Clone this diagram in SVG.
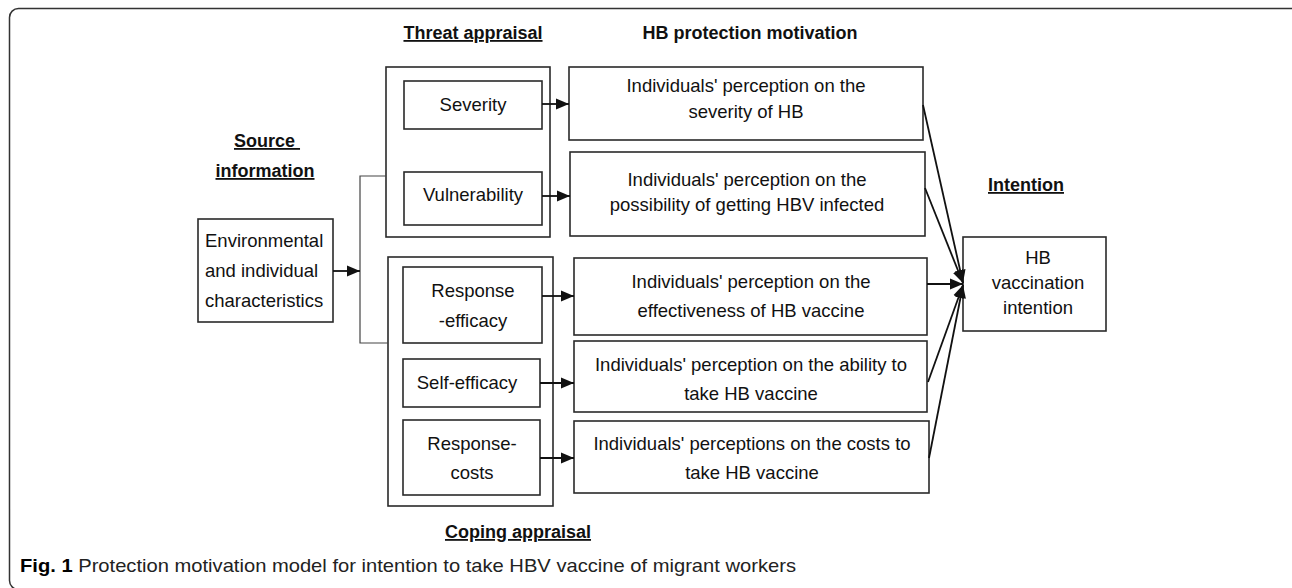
<svg xmlns="http://www.w3.org/2000/svg" width="1292" height="588" viewBox="0 0 1292 588">
<style>
  .box { fill: #fff; stroke: #2a2a2a; stroke-width: 1.6; }
  .t { font-family: "Liberation Sans", Arial, sans-serif; font-size: 18.5px; fill: #111; text-anchor: middle; }
  .tl { font-family: "Liberation Sans", Arial, sans-serif; font-size: 18.5px; fill: #111; }
  .h { font-family: "Liberation Sans", Arial, sans-serif; font-size: 18px; font-weight: bold; fill: #111; text-anchor: middle; }
  .u { text-decoration: underline; }
  .conn { stroke: #111; stroke-width: 1.8; fill: none; }
  .thin { stroke: #444; stroke-width: 1.2; fill: none; }
  .cap { font-family: "Liberation Sans", Arial, sans-serif; font-size: 19px; fill: #222; }
</style>
<defs>
  <marker id="ah" markerUnits="userSpaceOnUse" markerWidth="14" markerHeight="12" refX="13" refY="6" orient="auto">
    <path d="M0,0.5 L13,6 L0,11.5 Z" fill="#111"/>
  </marker>
</defs>
<rect x="9.5" y="8.5" width="1292" height="581" rx="9" fill="#fff" stroke="#333" stroke-width="1.5"/>

<g id="titles">
  <text class="h u" x="473" y="39">Threat appraisal</text>
  <text class="h" x="750" y="39">HB protection motivation</text>
  <text class="h u" x="267" y="147" xml:space="preserve">Source </text>
  <text class="h u" x="265" y="177">information</text>
  <text class="h u" x="1026" y="191">Intention</text>
  <text class="h u" x="518" y="538">Coping appraisal</text>
</g>

<g id="env">
  <rect class="box" x="198" y="219" width="135" height="103"/>
  <text class="tl" x="205" y="247">Environmental</text>
  <text class="tl" x="205" y="277">and individual</text>
  <text class="tl" x="205" y="307">characteristics</text>
</g>

<g id="threat">
  <rect class="box" x="386" y="67" width="164" height="170"/>
</g>
<g id="severity">
  <rect class="box" x="404" y="81" width="138" height="48"/>
  <text class="t" x="473" y="111">Severity</text>
</g>
<g id="vulnerability">
  <rect class="box" x="404" y="172" width="138" height="53"/>
  <text class="t" x="473" y="201">Vulnerability</text>
</g>

<g id="coping">
  <rect class="box" x="388" y="257" width="165" height="249"/>
</g>
<g id="response-efficacy">
  <rect class="box" x="403" y="267" width="139" height="76"/>
  <text class="t" x="473" y="297">Response</text>
  <text class="t" x="473" y="327">-efficacy</text>
</g>
<g id="self-efficacy">
  <rect class="box" x="403" y="359" width="137" height="48"/>
  <text class="t" x="467" y="389">Self-efficacy</text>
</g>
<g id="response-costs">
  <rect class="box" x="403" y="420" width="137" height="75"/>
  <text class="t" x="472" y="450">Response-</text>
  <text class="t" x="472" y="479">costs</text>
</g>

<g id="p-severity">
  <rect class="box" x="569" y="67" width="354" height="73"/>
  <text class="t" x="746" y="92">Individuals' perception on the</text>
  <text class="t" x="746" y="118">severity of HB</text>
</g>
<g id="p-vulnerability">
  <rect class="box" x="570" y="152" width="355" height="84"/>
  <text class="t" x="747" y="186">Individuals' perception on the</text>
  <text class="t" x="747" y="211">possibility of getting HBV infected</text>
</g>
<g id="p-response-efficacy">
  <rect class="box" x="574" y="258" width="353" height="77"/>
  <text class="t" x="751" y="288">Individuals' perception on the</text>
  <text class="t" x="751" y="317">effectiveness of HB vaccine</text>
</g>
<g id="p-self-efficacy">
  <rect class="box" x="574" y="341" width="353" height="71"/>
  <text class="t" x="751" y="371">Individuals' perception on the ability to</text>
  <text class="t" x="751" y="400">take HB vaccine</text>
</g>
<g id="p-response-costs">
  <rect class="box" x="574" y="421" width="355" height="72"/>
  <text class="t" x="752" y="450">Individuals' perceptions on the costs to</text>
  <text class="t" x="752" y="479">take HB vaccine</text>
</g>

<g id="intention">
  <rect class="box" x="963" y="237" width="143" height="94"/>
  <text class="t" x="1038" y="264">HB</text>
  <text class="t" x="1038" y="289">vaccination</text>
  <text class="t" x="1038" y="314">intention</text>
</g>

<g id="connectors">
  <path class="thin" d="M386,176 H360 V343 H388"/>
  <line class="conn" x1="333" y1="271" x2="360" y2="271" marker-end="url(#ah)"/>
  <line class="conn" x1="542" y1="104" x2="569" y2="104" marker-end="url(#ah)"/>
  <line class="conn" x1="542" y1="196" x2="570" y2="196" marker-end="url(#ah)"/>
  <line class="conn" x1="542" y1="296" x2="574" y2="296" marker-end="url(#ah)"/>
  <line class="conn" x1="540" y1="383" x2="574" y2="383" marker-end="url(#ah)"/>
  <line class="conn" x1="540" y1="458" x2="574" y2="458" marker-end="url(#ah)"/>
  <line class="conn" x1="923" y1="105" x2="963" y2="283" marker-end="url(#ah)"/>
  <line class="conn" x1="925" y1="188" x2="963" y2="283" marker-end="url(#ah)"/>
  <line class="conn" x1="927" y1="284" x2="963" y2="284" marker-end="url(#ah)"/>
  <line class="conn" x1="928" y1="382" x2="963" y2="285" marker-end="url(#ah)"/>
  <line class="conn" x1="929" y1="458" x2="963" y2="285" marker-end="url(#ah)"/>
</g>

<text class="cap" x="20" y="572" textLength="776" lengthAdjust="spacingAndGlyphs"><tspan font-weight="bold" fill="#000">Fig. 1</tspan> Protection motivation model for intention to take HBV vaccine of migrant workers</text>
</svg>
